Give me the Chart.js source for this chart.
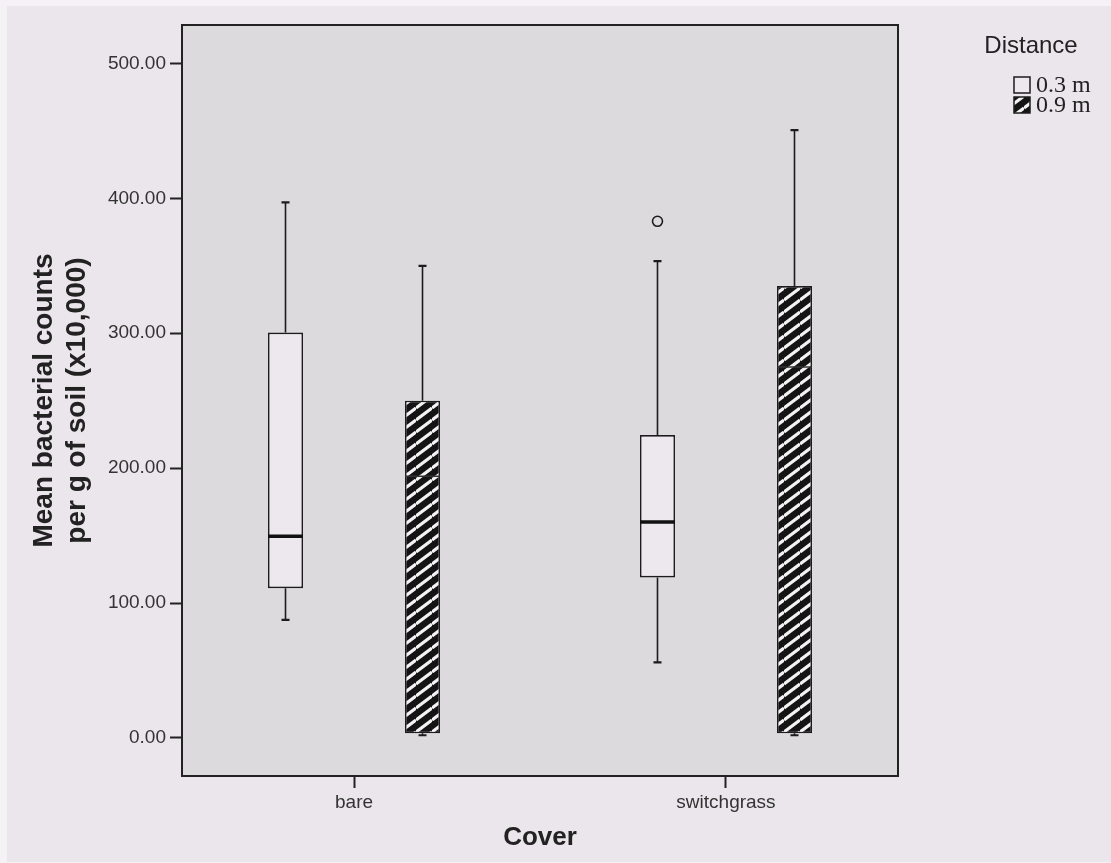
<!DOCTYPE html>
<html><head><meta charset="utf-8">
<script src="https://cdn.jsdelivr.net/npm/chart.js@4.4.1/dist/chart.umd.min.js"></script>
<style>html,body{margin:0;padding:0;background:#ebe6eb;} canvas{display:block;}</style>
</head><body>
<canvas id="c" width="1111" height="863"></canvas>
<script>
// ---- data ----
const categories = ['bare', 'switchgrass'];
const seriesNames = ['0.3 m', '0.9 m'];
const yTickValues = [0, 100, 200, 300, 400, 500];
// 0.3 m
const nearMin = [87.5, 56];
const nearQ1 = [111, 119];
const nearMedian = [149.5, 160];
const nearQ3 = [300.5, 224.5];
const nearMax = [397, 353.5];
const nearOutliers = [[], [383]];
// 0.9 m
const farMin = [2, 2];
const farQ1 = [3.5, 3.5];
const farMedian = [194, 275];
const farQ3 = [250, 335];
const farMax = [350, 450.5];
const farOutliers = [[], []];

// ---- hatch pattern ----
function makeHatch() {
  const W = 16, H = 12;
  const c = document.createElement('canvas');
  c.width = W; c.height = H;
  const g = c.getContext('2d');
  g.fillStyle = '#141414'; g.fillRect(0, 0, W, H);
  g.strokeStyle = '#f4f2f4'; g.lineWidth = 3.2;
  for (const k of [-1, 0, 1]) {
    g.beginPath(); g.moveTo(0, H + k * H); g.lineTo(W, k * H); g.stroke();
  }
  return g.createPattern(c, 'repeat');
}
const hatch = makeHatch();

const INK = '#1c1c1c';
const SANS = '"Liberation Sans", Arial, sans-serif';

const boxPlugin = {
  id: 'boxparts',
  beforeDraw(chart) {
    const {ctx, chartArea: a} = chart;
    ctx.save();
    ctx.fillStyle = '#f4f2f4'; ctx.fillRect(0, 0, chart.width, chart.height);
    ctx.fillStyle = '#ebe6eb'; ctx.fillRect(7, 6, chart.width - 7, chart.height - 7);
    ctx.fillStyle = '#dcdadd'; ctx.fillRect(a.left, a.top, a.right - a.left, a.bottom - a.top);
    ctx.restore();
  },
  afterDatasetsDraw(chart) {
    const {ctx, scales: {y}} = chart;
    ctx.save();
    chart.data.datasets.forEach((ds, di) => {
      const meta = chart.getDatasetMeta(di);
      const st = ds.stats;
      meta.data.forEach((el, i) => {
        const x = el.x, hw = el.width / 2;
        const yq1 = y.getPixelForValue(ds.data[i].y[0]);
        const yq3 = y.getPixelForValue(ds.data[i].y[1]);
        const ymin = y.getPixelForValue(st.min[i]);
        const ymax = y.getPixelForValue(st.max[i]);
        const ymed = y.getPixelForValue(st.median[i]);
        ctx.strokeStyle = INK; ctx.lineWidth = 1.6;
        ctx.beginPath();
        ctx.moveTo(x, yq3); ctx.lineTo(x, ymax);
        ctx.moveTo(x, yq1); ctx.lineTo(x, ymin);
        ctx.stroke();
        ctx.lineWidth = 2.2;
        ctx.beginPath();
        ctx.moveTo(x - 4, ymax); ctx.lineTo(x + 4, ymax);
        ctx.moveTo(x - 4, ymin); ctx.lineTo(x + 4, ymin);
        ctx.stroke();
        ctx.lineWidth = ds.medianWidth; ctx.strokeStyle = ds.medianColor;
        ctx.beginPath(); ctx.moveTo(x - hw, ymed); ctx.lineTo(x + hw, ymed); ctx.stroke();
        ctx.lineWidth = 1.6; ctx.strokeStyle = INK;
        st.outliers[i].forEach(v => {
          ctx.beginPath(); ctx.arc(x, y.getPixelForValue(v), 5, 0, Math.PI * 2); ctx.stroke();
        });
      });
    });
    ctx.restore();
  },
  afterDraw(chart) {
    const {ctx, chartArea: a} = chart;
    ctx.save();
    ctx.strokeStyle = '#222'; ctx.lineWidth = 2;
    ctx.strokeRect(a.left, a.top, a.right - a.left, a.bottom - a.top);
    // legend
    ctx.fillStyle = '#222';
    ctx.font = '24px ' + SANS;
    ctx.textAlign = 'center'; ctx.textBaseline = 'middle';
    ctx.fillText('Distance', 1031, 46);
    chart.data.datasets.forEach((ds, i) => {
      const top = 77 + i * 20;
      ctx.fillStyle = ds.backgroundColor;
      ctx.fillRect(1014, top, 16, 16);
      ctx.strokeStyle = INK; ctx.lineWidth = 1.5;
      ctx.strokeRect(1014, top, 16, 16);
      ctx.fillStyle = '#222';
      ctx.font = '24px "Liberation Serif", "Times New Roman", serif';
      ctx.textAlign = 'left';
      ctx.fillText(ds.label, 1036, top + 9);
    });
    ctx.restore();
  }
};

new Chart(document.getElementById('c'), {
  type: 'bar',
  data: {
    datasets: [
      {
        label: seriesNames[0],
        data: categories.map((_, i) => ({x: i, y: [nearQ1[i], nearQ3[i]]})),
        backgroundColor: '#ece8ee', borderColor: INK, borderWidth: 1.6, borderSkipped: false,
        stats: {min: nearMin, median: nearMedian, max: nearMax, outliers: nearOutliers},
        medianWidth: 3.5, medianColor: '#111'
      },
      {
        label: seriesNames[1],
        data: categories.map((_, i) => ({x: i, y: [farQ1[i], farQ3[i]]})),
        backgroundColor: hatch, borderColor: INK, borderWidth: 1.6, borderSkipped: false,
        stats: {min: farMin, median: farMedian, max: farMax, outliers: farOutliers},
        medianWidth: 1.5, medianColor: '#333'
      }
    ]
  },
  options: {
    responsive: false, devicePixelRatio: 1, animation: false,
    categoryPercentage: 0.7366, barPercentage: 0.2555,
    layout: {padding: {left: 0, right: 213, top: 25, bottom: 0}},
    plugins: {legend: {display: false}, tooltip: {enabled: false}},
    scales: {
      x: {
        type: 'linear', min: -0.4624, max: 1.4624, offset: false,
        afterBuildTicks: s => { s.ticks = categories.map((_, i) => ({value: i})); },
        grid: {offset: false, drawOnChartArea: false, drawTicks: true, tickLength: 12, tickWidth: 2, tickColor: '#222', color: '#222'},
        border: {display: false},
        ticks: {color: '#333', font: {family: SANS, size: 19}, padding: 3, maxRotation: 0,
          callback: v => categories[v]},
        title: {display: true, text: 'Cover', color: '#222', font: {family: SANS, size: 26, weight: 'bold'}, padding: {top: 0, bottom: 10}},
        afterFit: s => { s.height = 87; }
      },
      y: {
        type: 'linear', min: -28.2, max: 528.5,
        afterBuildTicks: s => { s.ticks = yTickValues.map(v => ({value: v})); },
        grid: {drawOnChartArea: false, drawTicks: true, tickLength: 12, tickWidth: 2, tickColor: '#222', color: '#222'},
        border: {display: false},
        ticks: {color: '#333', font: {family: SANS, size: 19}, padding: 4, callback: v => Number(v).toFixed(2)},
        title: {display: true, text: ['Mean bacterial counts', 'per g of soil (x10,000)'], color: '#222',
          font: {family: SANS, size: 28, weight: 'bold', lineHeight: 1.2}, padding: {top: 27, bottom: 0}},
        afterFit: s => { s.width = 182; }
      }
    }
  },
  plugins: [boxPlugin]
});
</script>
</body></html>
